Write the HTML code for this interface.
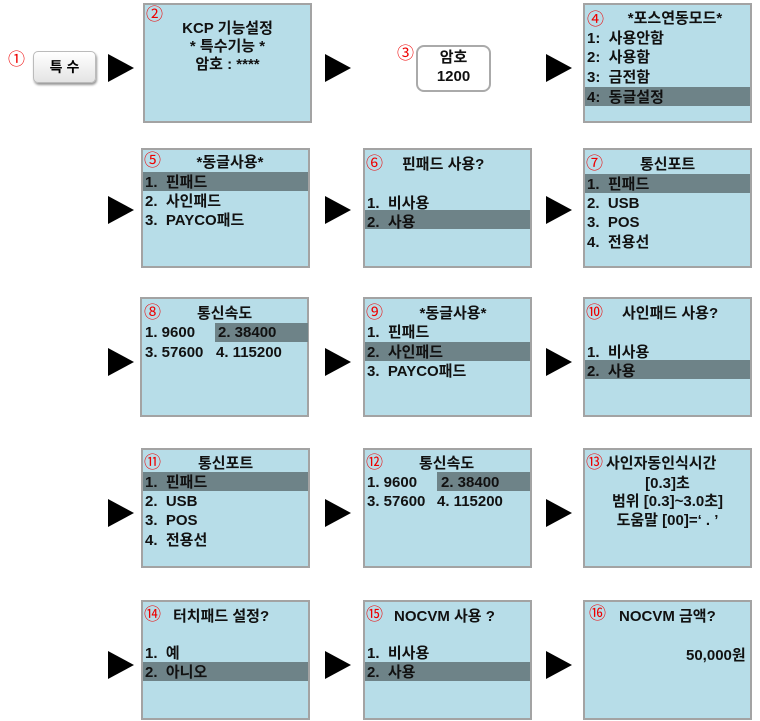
<!DOCTYPE html>
<html><head><meta charset="utf-8"><style>
body{margin:0;width:760px;height:721px;background:#fff;position:relative;overflow:hidden;font-family:"Liberation Sans","Noto Sans CJK KR",sans-serif}
.b{position:absolute;box-sizing:border-box;background:#b7dde8;border:2px solid #a3a3a3;width:169px;height:120px}
.h{position:absolute;background:#6e8388;height:19px}
.t{position:absolute;height:20px;line-height:20px;font-size:15px;font-weight:bold;color:#111;white-space:pre;margin-top:2px}
.c{text-align:center}
.n{position:absolute;color:#e00;font-size:17px;line-height:18px;font-weight:normal}
.a{position:absolute;width:0;height:0;border-top:14px solid transparent;border-bottom:14px solid transparent;border-left:26px solid #000}
</style></head><body>
<div class="a" style="left:108px;top:54px"></div>
<div class="a" style="left:325px;top:54px"></div>
<div class="a" style="left:546px;top:54px"></div>
<div class="a" style="left:108px;top:196px"></div>
<div class="a" style="left:325px;top:196px"></div>
<div class="a" style="left:546px;top:196px"></div>
<div class="a" style="left:108px;top:348px"></div>
<div class="a" style="left:325px;top:348px"></div>
<div class="a" style="left:546px;top:348px"></div>
<div class="a" style="left:108px;top:499px"></div>
<div class="a" style="left:325px;top:499px"></div>
<div class="a" style="left:546px;top:499px"></div>
<div class="a" style="left:108px;top:651px"></div>
<div class="a" style="left:325px;top:651px"></div>
<div class="a" style="left:546px;top:651px"></div>

<div class="n" style="left:8px;top:51px">①</div>
<div style="position:absolute;left:33px;top:51px;width:63px;height:32px;box-sizing:border-box;border:1px solid #bbb;border-radius:5px;background:linear-gradient(#fff,#e4e4e4);box-shadow:1px 2px 2px #999;text-align:center;line-height:30px;font-size:14px;font-weight:bold">특 수</div>

<div class="b" style="left:143px;top:3px"></div>
<div class="n" style="left:146px;top:6px">②</div>
<div class="t c" style="left:143px;width:169px;top:17px">KCP 기능설정</div>
<div class="t c" style="left:143px;width:169px;top:35px">* 특수기능 *</div>
<div class="t c" style="left:143px;width:169px;top:53px">암호 : ****</div>

<div class="n" style="left:397px;top:45px">③</div>
<div style="position:absolute;left:416px;top:45px;width:75px;height:47px;box-sizing:border-box;border:2px solid #aaa;border-radius:8px;background:#fff"></div>
<div class="t c" style="left:416px;width:75px;top:46px">암호</div>
<div class="t c" style="left:416px;width:75px;top:65px">1200</div>

<div class="b" style="left:583px;top:3px"></div>
<div class="h" style="left:585px;top:87px;width:165px"></div>
<div class="n" style="left:587px;top:11px">④</div>
<div class="t c" style="left:600px;width:150px;top:7px">*포스연동모드*</div>
<div class="t" style="left:587px;top:27px">1:  사용안함</div>
<div class="t" style="left:587px;top:46px">2:  사용함</div>
<div class="t" style="left:587px;top:66px">3:  금전함</div>
<div class="t" style="left:587px;top:86px">4:  동글설정</div>

<div class="b" style="left:141px;top:148px"></div>
<div class="h" style="left:143px;top:172px;width:165px"></div>
<div class="n" style="left:144px;top:152px">⑤</div>
<div class="t c" style="left:155px;width:150px;top:151px">*동글사용*</div>
<div class="t" style="left:145px;top:171px">1.  핀패드</div>
<div class="t" style="left:145px;top:190px">2.  사인패드</div>
<div class="t" style="left:145px;top:209px">3.  PAYCO패드</div>

<div class="b" style="left:363px;top:148px"></div>
<div class="h" style="left:365px;top:210px;width:165px"></div>
<div class="n" style="left:366px;top:155px">⑥</div>
<div class="t" style="left:402px;top:153px">핀패드 사용?</div>
<div class="t" style="left:367px;top:192px">1.  비사용</div>
<div class="t" style="left:367px;top:211px">2.  사용</div>

<div class="b" style="left:583px;top:148px"></div>
<div class="h" style="left:585px;top:174px;width:165px"></div>
<div class="n" style="left:586px;top:155px">⑦</div>
<div class="t" style="left:640px;top:153px">통신포트</div>
<div class="t" style="left:587px;top:173px">1.  핀패드</div>
<div class="t" style="left:587px;top:192px">2.  USB</div>
<div class="t" style="left:587px;top:211px">3.  POS</div>
<div class="t" style="left:587px;top:231px">4.  전용선</div>

<div class="b" style="left:140px;top:297px"></div>
<div class="h" style="left:215px;top:323px;width:93px"></div>
<div class="n" style="left:144px;top:304px">⑧</div>
<div class="t" style="left:197px;top:302px">통신속도</div>
<div class="t" style="left:145px;top:321px">1. 9600</div>
<div class="t" style="left:218px;top:321px">2. 38400</div>
<div class="t" style="left:145px;top:341px">3. 57600</div>
<div class="t" style="left:216px;top:341px">4. 115200</div>

<div class="b" style="left:363px;top:297px"></div>
<div class="h" style="left:365px;top:342px;width:165px"></div>
<div class="n" style="left:366px;top:304px">⑨</div>
<div class="t c" style="left:378px;width:150px;top:302px">*동글사용*</div>
<div class="t" style="left:367px;top:321px">1.  핀패드</div>
<div class="t" style="left:367px;top:341px">2.  사인패드</div>
<div class="t" style="left:367px;top:360px">3.  PAYCO패드</div>

<div class="b" style="left:583px;top:297px"></div>
<div class="h" style="left:585px;top:360px;width:165px"></div>
<div class="n" style="left:586px;top:304px">⑩</div>
<div class="t" style="left:622px;top:302px">사인패드 사용?</div>
<div class="t" style="left:587px;top:341px">1.  비사용</div>
<div class="t" style="left:587px;top:360px">2.  사용</div>

<div class="b" style="left:141px;top:448px"></div>
<div class="h" style="left:143px;top:472px;width:165px"></div>
<div class="n" style="left:144px;top:454px">⑪</div>
<div class="t" style="left:198px;top:452px">통신포트</div>
<div class="t" style="left:145px;top:471px">1.  핀패드</div>
<div class="t" style="left:145px;top:490px">2.  USB</div>
<div class="t" style="left:145px;top:509px">3.  POS</div>
<div class="t" style="left:145px;top:529px">4.  전용선</div>

<div class="b" style="left:363px;top:448px"></div>
<div class="h" style="left:437px;top:472px;width:93px"></div>
<div class="n" style="left:366px;top:454px">⑫</div>
<div class="t" style="left:419px;top:452px">통신속도</div>
<div class="t" style="left:367px;top:471px">1. 9600</div>
<div class="t" style="left:441px;top:471px">2. 38400</div>
<div class="t" style="left:367px;top:490px">3. 57600</div>
<div class="t" style="left:437px;top:490px">4. 115200</div>

<div class="b" style="left:583px;top:448px"></div>
<div class="n" style="left:586px;top:454px">⑬</div>
<div class="t" style="left:606px;top:452px">사인자동인식시간</div>
<div class="t c" style="left:583px;width:169px;top:472px">[0.3]초</div>
<div class="t c" style="left:583px;width:169px;top:490px">범위 [0.3]~3.0초]</div>
<div class="t c" style="left:583px;width:169px;top:509px">도움말 [00]=‘ . ’</div>

<div class="b" style="left:141px;top:600px"></div>
<div class="h" style="left:143px;top:662px;width:165px"></div>
<div class="n" style="left:144px;top:606px">⑭</div>
<div class="t" style="left:173px;top:605px">터치패드 설정?</div>
<div class="t" style="left:145px;top:642px">1.  예</div>
<div class="t" style="left:145px;top:661px">2.  아니오</div>

<div class="b" style="left:363px;top:600px"></div>
<div class="h" style="left:365px;top:662px;width:165px"></div>
<div class="n" style="left:366px;top:606px">⑮</div>
<div class="t" style="left:394px;top:605px">NOCVM 사용 ?</div>
<div class="t" style="left:367px;top:642px">1.  비사용</div>
<div class="t" style="left:367px;top:661px">2.  사용</div>

<div class="b" style="left:583px;top:600px"></div>
<div class="n" style="left:589px;top:605px">⑯</div>
<div class="t" style="left:619px;top:605px">NOCVM 금액?</div>
<div class="t" style="left:686px;top:644px">50,000원</div>
</body></html>
